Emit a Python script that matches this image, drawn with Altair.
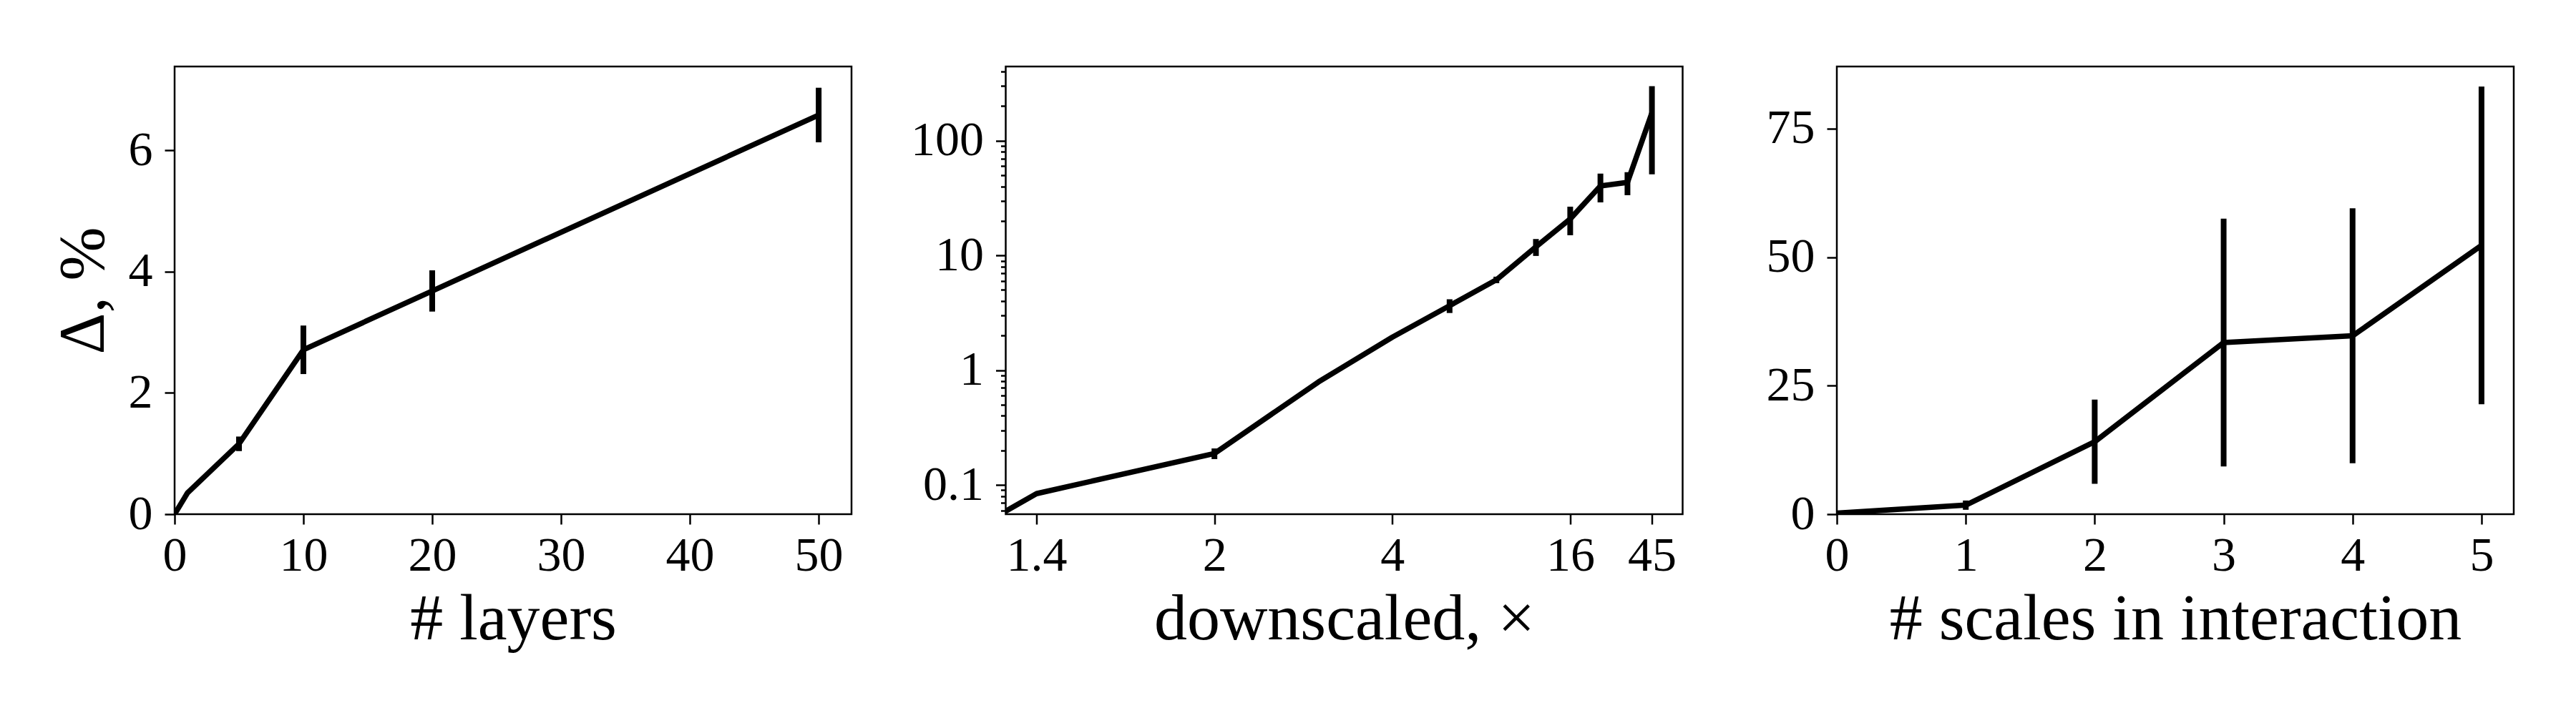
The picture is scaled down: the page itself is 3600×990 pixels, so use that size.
import altair as alt
import pandas as pd

FONT = "Liberation Serif"

# ---- Panel 1: number of layers ----
layers_x = [0, 1, 5, 10, 20, 50]
layers_y = [0.0, 0.35, 1.16, 2.71, 3.68, 6.58]
layers_err = [0.0, 0.0, 0.12, 0.40, 0.34, 0.45]
layers_xticks = [0, 10, 20, 30, 40, 50]
layers_yticks = [0, 2, 4, 6]

# ---- Panel 2: downscaled factor (x stored as log2 of the factor) ----
down_log2 = [0.25, 0.5, 1.0, 1.5, 2.0, 2.5, 3.0, 3.5, 4.0, 4.5, 5.0, 5.5]
down_y = [0.011, 0.084, 0.188, 0.79, 1.94, 3.65, 6.13, 11.9, 20.8, 40.3, 43.3, 175.0]
down_err = [0.0, 0.0, 0.02, 0.0, 0.0, 0.5, 0.4, 2.0, 5.8, 11.3, 9.8, 124.0]
down_xticks = [0.5, 1, 2, 4, 5.5]          # labelled 1.4, 2, 4, 16, 45
down_yticks_major = [0.1, 1, 10, 100]
down_yticks_minor = ([0.06, 0.07, 0.08, 0.09]
                     + [m * 0.1 for m in range(2, 10)]
                     + [m * 1.0 for m in range(2, 10)]
                     + [m * 10.0 for m in range(2, 10)]
                     + [200.0, 300.0, 400.0])

# ---- Panel 3: scales in interaction ----
scales_x = [0, 1, 2, 3, 4, 5]
scales_y = [0.2, 1.76, 14.1, 33.4, 34.7, 52.3]
scales_err = [0.0, 0.9, 8.2, 24.1, 24.8, 30.9]
scales_xticks = [0, 1, 2, 3, 4, 5]
scales_yticks = [0, 25, 50, 75]

W, H = 946, 626


def make_df(xs, ys, es):
    df = pd.DataFrame({"x": xs, "y": ys, "err": es})
    df["lo"] = df["y"] - df["err"]
    df["hi"] = df["y"] + df["err"]
    return df


def panel(df, xscale, xaxis, xtitle, yscale, yaxis, ytitle):
    base = alt.Chart(df)
    line = base.mark_line(color="black", strokeWidth=7.5, strokeJoin="round",
                          clip=True).encode(
        x=alt.X("x:Q", scale=xscale, axis=xaxis, title=xtitle),
        y=alt.Y("y:Q", scale=yscale, axis=yaxis, title=ytitle),
    )
    err = base.transform_filter("datum.err > 0").mark_rule(
        color="black", strokeWidth=8, clip=True).encode(
        x=alt.X("x:Q", scale=xscale, axis=xaxis, title=xtitle),
        y=alt.Y("lo:Q", scale=yscale, axis=yaxis, title=ytitle),
        y2="hi:Q",
    )
    return alt.layer(line, err).properties(width=W, height=H)


# Panel 1
p1 = panel(
    make_df(layers_x, layers_y, layers_err),
    alt.Scale(domain=[0, 52.55], nice=False, zero=False),
    alt.Axis(values=layers_xticks, format="d"),
    "# layers",
    alt.Scale(domain=[0, 7.38], nice=False, zero=False),
    alt.Axis(values=layers_yticks, format="d", titleFontSize=90),
    "Δ, %",
)

# Panel 2
major_test = ("abs(log(datum.value)/LN10 - round(log(datum.value)/LN10)) < 1e-6")
p2_yaxis = alt.Axis(
    values=down_yticks_major + down_yticks_minor,
    labelExpr=f"({major_test}) ? format(datum.value, '~g') : ''",
    tickSize={"condition": {"test": major_test, "value": 14}, "value": 7},
    labelOverlap=False,
)
p2 = panel(
    make_df(down_log2, down_y, down_err),
    alt.Scale(type="log", base=2, domain=[2 ** -1.1733, 2 ** 2.632], nice=False),
    alt.Axis(values=down_xticks, labelExpr="format(pow(2, datum.value), '.2~r')",
             labelOverlap=False),
    "downscaled, ×",
    alt.Scale(type="log", domain=[0.0556, 443], nice=False),
    p2_yaxis,
    None,
)

# Panel 3
p3 = panel(
    make_df(scales_x, scales_y, scales_err),
    alt.Scale(domain=[0, 5.25], nice=False, zero=False),
    alt.Axis(values=scales_xticks, format="d"),
    "# scales in interaction",
    alt.Scale(domain=[0, 87.1], nice=False, zero=False),
    alt.Axis(values=scales_yticks, format="d"),
    None,
)

chart = (
    alt.hconcat(p1, p2, p3, spacing=215.5, bounds="flush")
    .properties(
        autosize=alt.AutoSizeParams(type="pad"),
        padding={"left": 62, "top": 56, "right": 20, "bottom": 20},
        background="white",
    )
    .configure_view(stroke="black", strokeWidth=2.5, fill="white")
    .configure_axis(
        labelFont=FONT, titleFont=FONT, labelFontSize=68, titleFontSize=92,
        titleFontWeight="normal", labelColor="black", titleColor="black",
        tickColor="black", tickWidth=2.5, tickSize=14, domain=False, grid=False,
        labelFlush=False,
    )
    .configure_axisX(labelPadding=10, titlePadding=9)
    .configure_axisY(labelPadding=17, titlePadding=16)
)

chart.save("out.html", embed_options={"renderer": "svg", "actions": False})
